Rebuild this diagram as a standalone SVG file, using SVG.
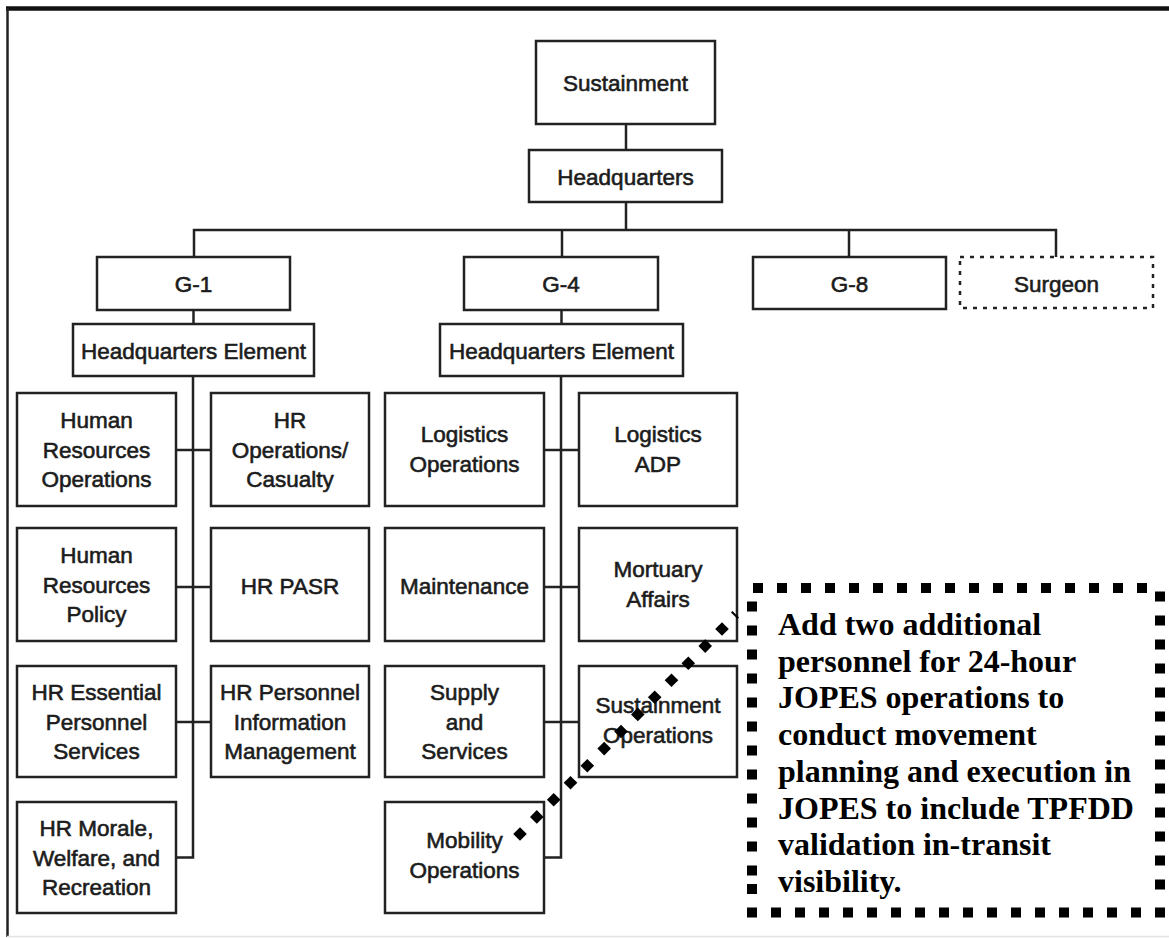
<svg xmlns="http://www.w3.org/2000/svg" width="1169" height="938" viewBox="0 0 1169 938">
<style>
.box{fill:#fff;stroke:#222;stroke-width:2.5}
.dash{stroke-dasharray:4 6}
.lbl{font-family:"Liberation Sans",Arial,sans-serif;font-size:22.5px;fill:#1c1c1c;text-anchor:middle;stroke:#1c1c1c;stroke-width:0.6}
.conn{stroke:#222;stroke-width:2.5;fill:none}
.note{font-family:"Liberation Serif","Times New Roman",serif;font-size:32px;font-weight:bold;fill:#000}
</style>
<defs>
<rect id="s" width="10" height="10" fill="#000"/>
<path id="dm" d="M0,-6.8 L6.8,0 L0,6.8 L-6.8,0Z" fill="#000"/>
</defs>
<rect x="0" y="0" width="1169" height="938" fill="#fff"/>
<g id="frame">
<line x1="6" y1="8.5" x2="1169" y2="8.5" stroke="#111" stroke-width="4.5"/>
<line x1="7.5" y1="8" x2="7.5" y2="937" stroke="#222" stroke-width="2.5"/>
<line x1="7" y1="936.5" x2="1169" y2="936.5" stroke="#e2e2e2" stroke-width="1.5"/>
</g>
<g id="connectors">
<line class="conn" x1="626" y1="124" x2="626" y2="150"/>
<line class="conn" x1="626" y1="202" x2="626" y2="230"/>
<polyline class="conn" points="194,257 194,230 1056,230 1056,257"/>
<line class="conn" x1="562" y1="230" x2="562" y2="257"/>
<line class="conn" x1="849" y1="230" x2="849" y2="257"/>
<line class="conn" x1="193.5" y1="310" x2="193.5" y2="324"/>
<line class="conn" x1="561.5" y1="310" x2="561.5" y2="324"/>
<polyline class="conn" points="193,376 193,857.5 176,857.5"/>
<line class="conn" x1="176" y1="450" x2="211" y2="450"/>
<line class="conn" x1="176" y1="587" x2="211" y2="587"/>
<line class="conn" x1="176" y1="722" x2="211" y2="722"/>
<polyline class="conn" points="561,376 561,857.5 544,857.5"/>
<line class="conn" x1="544" y1="450" x2="579" y2="450"/>
<line class="conn" x1="544" y1="587" x2="579" y2="587"/>
<line class="conn" x1="544" y1="722" x2="579" y2="722"/>
</g>
<g id="sustainment"><rect class="box" x="536" y="41" width="179" height="83"/><text class="lbl" x="625.5" y="91">Sustainment</text></g>
<g id="headquarters"><rect class="box" x="529" y="150" width="193" height="52"/><text class="lbl" x="625.5" y="185">Headquarters</text></g>
<g id="g1"><rect class="box" x="97" y="257" width="193" height="53"/><text class="lbl" x="193.5" y="292">G-1</text></g>
<g id="g4"><rect class="box" x="464" y="257" width="194" height="53"/><text class="lbl" x="561" y="292">G-4</text></g>
<g id="g8"><rect class="box" x="753" y="257" width="193" height="52"/><text class="lbl" x="849.5" y="292">G-8</text></g>
<g id="surgeon"><rect class="box dash" x="960" y="257" width="193" height="51"/><text class="lbl" x="1056.5" y="292">Surgeon</text></g>
<g id="hqe1"><rect class="box" x="73" y="324" width="241" height="52"/><text class="lbl" x="193.5" y="359">Headquarters Element</text></g>
<g id="hqe4"><rect class="box" x="440" y="324" width="243" height="52"/><text class="lbl" x="561.5" y="359">Headquarters Element</text></g>

<g id="hr-ops"><rect class="box" x="17" y="393" width="159" height="113"/><text class="lbl"><tspan x="96.5" y="428">Human</tspan><tspan x="96.5" y="458">Resources</tspan><tspan x="96.5" y="487">Operations</tspan></text></g>
<g id="hr-casualty"><rect class="box" x="211" y="393" width="158" height="113"/><text class="lbl"><tspan x="290" y="428">HR</tspan><tspan x="290" y="458">Operations/</tspan><tspan x="290" y="487">Casualty</tspan></text></g>
<g id="hr-policy"><rect class="box" x="17" y="528" width="159" height="113"/><text class="lbl"><tspan x="96.5" y="563">Human</tspan><tspan x="96.5" y="593">Resources</tspan><tspan x="96.5" y="622">Policy</tspan></text></g>
<g id="hr-pasr"><rect class="box" x="211" y="528" width="158" height="113"/><text class="lbl" x="290" y="594">HR PASR</text></g>
<g id="hr-eps"><rect class="box" x="17" y="666" width="159" height="111"/><text class="lbl"><tspan x="96.5" y="700">HR Essential</tspan><tspan x="96.5" y="730">Personnel</tspan><tspan x="96.5" y="759">Services</tspan></text></g>
<g id="hr-pim"><rect class="box" x="211" y="666" width="158" height="111"/><text class="lbl"><tspan x="290" y="700">HR Personnel</tspan><tspan x="290" y="730">Information</tspan><tspan x="290" y="759">Management</tspan></text></g>
<g id="hr-mwr"><rect class="box" x="17" y="802" width="159" height="111"/><text class="lbl"><tspan x="96.5" y="836">HR Morale,</tspan><tspan x="96.5" y="866">Welfare, and</tspan><tspan x="96.5" y="895">Recreation</tspan></text></g>

<g id="log-ops"><rect class="box" x="385" y="393" width="159" height="113"/><text class="lbl"><tspan x="464.5" y="441.5">Logistics</tspan><tspan x="464.5" y="471.5">Operations</tspan></text></g>
<g id="log-adp"><rect class="box" x="579" y="393" width="158" height="113"/><text class="lbl"><tspan x="658" y="441.5">Logistics</tspan><tspan x="658" y="471.5">ADP</tspan></text></g>
<g id="maintenance"><rect class="box" x="385" y="528" width="159" height="113"/><text class="lbl" x="464.5" y="594">Maintenance</text></g>
<g id="mortuary"><rect class="box" x="579" y="528" width="158" height="113"/><text class="lbl"><tspan x="658" y="577">Mortuary</tspan><tspan x="658" y="607">Affairs</tspan></text></g>
<g id="supply"><rect class="box" x="385" y="666" width="159" height="111"/><text class="lbl"><tspan x="464.5" y="700">Supply</tspan><tspan x="464.5" y="730">and</tspan><tspan x="464.5" y="759">Services</tspan></text></g>
<g id="sust-ops"><rect class="box" x="579" y="666" width="158" height="111"/><text class="lbl"><tspan x="658" y="713">Sustainment</tspan><tspan x="658" y="743">Operations</tspan></text></g>
<g id="mobility"><rect class="box" x="385" y="802" width="159" height="111"/><text class="lbl"><tspan x="464.5" y="848">Mobility</tspan><tspan x="464.5" y="878">Operations</tspan></text></g>

<g id="callout-connector">
<use href="#dm" x="520" y="834"/><use href="#dm" x="536.8" y="816.9"/><use href="#dm" x="553.7" y="799.8"/><use href="#dm" x="570.5" y="782.8"/><use href="#dm" x="587.3" y="765.7"/><use href="#dm" x="604.2" y="748.6"/><use href="#dm" x="621" y="731.5"/><use href="#dm" x="637.8" y="714.4"/><use href="#dm" x="654.7" y="697.3"/><use href="#dm" x="671.5" y="680.3"/><use href="#dm" x="688.3" y="663.2"/><use href="#dm" x="705.2" y="646.1"/><use href="#dm" x="722" y="629"/>
<line x1="731.7" y1="611.7" x2="738.3" y2="618.3" stroke="#000" stroke-width="2"/>
</g>
<g id="annotation">
<g id="border-top">
<use href="#s" x="753" y="583"/><use href="#s" x="777" y="583"/><use href="#s" x="801" y="583"/><use href="#s" x="825" y="583"/><use href="#s" x="849" y="583"/><use href="#s" x="873" y="583"/><use href="#s" x="897" y="583"/><use href="#s" x="921" y="583"/><use href="#s" x="945" y="583"/><use href="#s" x="969" y="583"/><use href="#s" x="993" y="583"/><use href="#s" x="1017" y="583"/><use href="#s" x="1041" y="583"/><use href="#s" x="1065" y="583"/><use href="#s" x="1089" y="583"/><use href="#s" x="1113" y="583"/><use href="#s" x="1137" y="583"/>
</g>
<g id="border-right">
<use href="#s" x="1155" y="591.5"/><use href="#s" x="1155" y="615.5"/><use href="#s" x="1155" y="639.5"/><use href="#s" x="1155" y="663.5"/><use href="#s" x="1155" y="687.5"/><use href="#s" x="1155" y="711.5"/><use href="#s" x="1155" y="735.5"/><use href="#s" x="1155" y="759.5"/><use href="#s" x="1155" y="783.5"/><use href="#s" x="1155" y="807.5"/><use href="#s" x="1155" y="831.5"/><use href="#s" x="1155" y="855.5"/><use href="#s" x="1155" y="879.5"/>
</g>
<g id="border-left">
<use href="#s" x="747" y="601.5"/><use href="#s" x="747" y="625.5"/><use href="#s" x="747" y="649.5"/><use href="#s" x="747" y="673.5"/><use href="#s" x="747" y="697.5"/><use href="#s" x="747" y="721.5"/><use href="#s" x="747" y="745.5"/><use href="#s" x="747" y="769.5"/><use href="#s" x="747" y="793.5"/><use href="#s" x="747" y="817.5"/><use href="#s" x="747" y="841.5"/><use href="#s" x="747" y="865.5"/><use href="#s" x="747" y="884"/>
</g>
<g id="border-bottom">
<use href="#s" x="747" y="907.5"/><use href="#s" x="771" y="907.5"/><use href="#s" x="795" y="907.5"/><use href="#s" x="819" y="907.5"/><use href="#s" x="843" y="907.5"/><use href="#s" x="867" y="907.5"/><use href="#s" x="891" y="907.5"/><use href="#s" x="915" y="907.5"/><use href="#s" x="939" y="907.5"/><use href="#s" x="963" y="907.5"/><use href="#s" x="987" y="907.5"/><use href="#s" x="1011" y="907.5"/><use href="#s" x="1035" y="907.5"/><use href="#s" x="1059" y="907.5"/><use href="#s" x="1083" y="907.5"/><use href="#s" x="1107" y="907.5"/><use href="#s" x="1131" y="907.5"/><use href="#s" x="1155" y="907.5"/>
</g>
<text class="note"><tspan x="778" y="635">Add two additional</tspan><tspan x="778" y="671.7">personnel for 24-hour</tspan><tspan x="778" y="708.4">JOPES operations to</tspan><tspan x="778" y="745.1">conduct movement</tspan><tspan x="778" y="781.8">planning and execution in</tspan><tspan x="778" y="818.5">JOPES to include TPFDD</tspan><tspan x="778" y="855.2">validation in-transit</tspan><tspan x="778" y="891.9">visibility.</tspan></text>
</g>
</svg>
